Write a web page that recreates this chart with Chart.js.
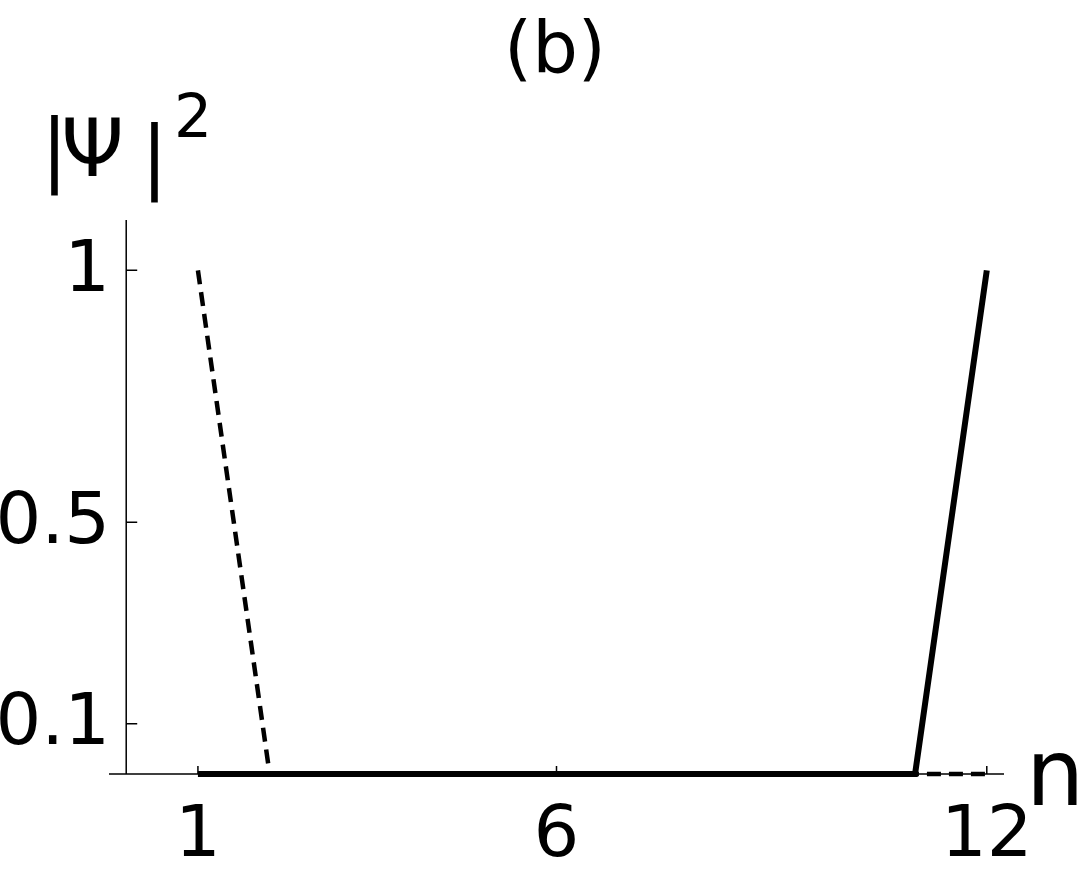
<!DOCTYPE html>
<html>
<head>
<meta charset="utf-8">
<script src="https://cdn.jsdelivr.net/npm/chart.js@4"></script>
<style>
  html, body { margin: 0; padding: 0; background: #fff; }
  #wrap { width: 1083px; height: 871px; }
</style>
</head>
<body>
<div id="wrap"><canvas id="psiChart" width="1083" height="871"></canvas></div>
<script>
// data
const sites = [1, 2, 3, 4, 5, 6, 7, 8, 9, 10, 11, 12];
const dashedProb = [1, 0, 0, 0, 0, 0, 0, 0, 0, 0, 0, 0];
const solidProb = [0, 0, 0, 0, 0, 0, 0, 0, 0, 0, 0, 1];
const xTicks = [1, 6, 12];
const yTicks = [0.1, 0.5, 1];
const yTickLabels = ['0.1', '0.5', '1'];

const FONT = '"DejaVu Sans", Verdana, sans-serif';

// axes, inward tick marks and all the text, placed with the chart's scales
const axesPlugin = {
  id: 'axesPlugin',
  beforeDatasetsDraw(chart) {
    const { ctx, chartArea, scales } = chart;
    const xs = scales.x, ys = scales.y;
    const x0 = xs.getPixelForValue(0);
    const y0 = ys.getPixelForValue(0);
    ctx.save();
    ctx.strokeStyle = '#000';
    ctx.lineWidth = 1.5;
    ctx.beginPath();
    ctx.moveTo(chartArea.left, y0);
    ctx.lineTo(chartArea.right, y0);
    ctx.moveTo(x0, chartArea.top);
    ctx.lineTo(x0, y0);
    // y ticks
    yTicks.forEach((v) => {
      const py = ys.getPixelForValue(v);
      ctx.moveTo(x0, py);
      ctx.lineTo(x0 + 11, py);
    });
    // x ticks
    xTicks.forEach((v) => {
      const px = xs.getPixelForValue(v);
      ctx.moveTo(px, y0);
      ctx.lineTo(px, y0 - 8);
    });
    ctx.stroke();
    ctx.restore();
  },
  afterDraw(chart) {
    const { ctx, scales } = chart;
    const xs = scales.x, ys = scales.y;
    const y0 = ys.getPixelForValue(0);
    ctx.save();
    ctx.fillStyle = '#000';
    ctx.font = '72px ' + FONT;
    ctx.textAlign = 'right';
    ctx.textBaseline = 'middle';
    yTicks.forEach((v, i) => {
      ctx.fillText(yTickLabels[i], 110, ys.getPixelForValue(v) + 2);
    });
    ctx.textAlign = 'center';
    ctx.textBaseline = 'alphabetic';
    xTicks.forEach((v) => {
      ctx.fillText(String(v), xs.getPixelForValue(v), y0 + 82);
    });
    // title
    ctx.fillText('(b)', 555, 72);
    // y label |Ψ|²
    ctx.textAlign = 'left';
    ctx.font = '80px ' + FONT;
    ctx.fillText('|', 41, 176);
    ctx.fillText('Ψ', 61, 176);
    ctx.fillText('|', 141, 183);
    ctx.font = '60px ' + FONT;
    ctx.fillText('2', 174, 137);
    // x label n
    ctx.font = '92px ' + FONT;
    ctx.fillText('n', 1026, 805);
    ctx.restore();
  }
};

new Chart(document.getElementById('psiChart'), {
  type: 'line',
  data: {
    labels: sites,
    datasets: [
      {
        label: 'solid',
        data: sites.map((n, i) => ({ x: n, y: solidProb[i] })),
        borderColor: '#000',
        borderWidth: 6,
        pointRadius: 0,
        tension: 0,
        fill: false,
        clip: false,
        order: 1,
      },
      {
        label: 'dashed',
        data: sites.map((n, i) => ({ x: n, y: dashedProb[i] })),
        borderColor: '#000',
        borderWidth: 4.5,
        borderDash: [14, 8],
        pointRadius: 0,
        tension: 0,
        fill: false,
        clip: false,
        order: 2,
      },
    ],
  },
  options: {
    responsive: false,
    animation: false,
    events: [],
    layout: { padding: { left: 109, right: 79, top: 220, bottom: 97 } },
    plugins: { legend: { display: false }, tooltip: { enabled: false } },
    scales: {
      x: {
        type: 'linear',
        min: -0.24,
        max: 12.24,
        display: false,
      },
      y: {
        type: 'linear',
        min: 0,
        max: 1.1,
        display: false,
      },
    },
  },
  plugins: [axesPlugin],
});
</script>
</body>
</html>
